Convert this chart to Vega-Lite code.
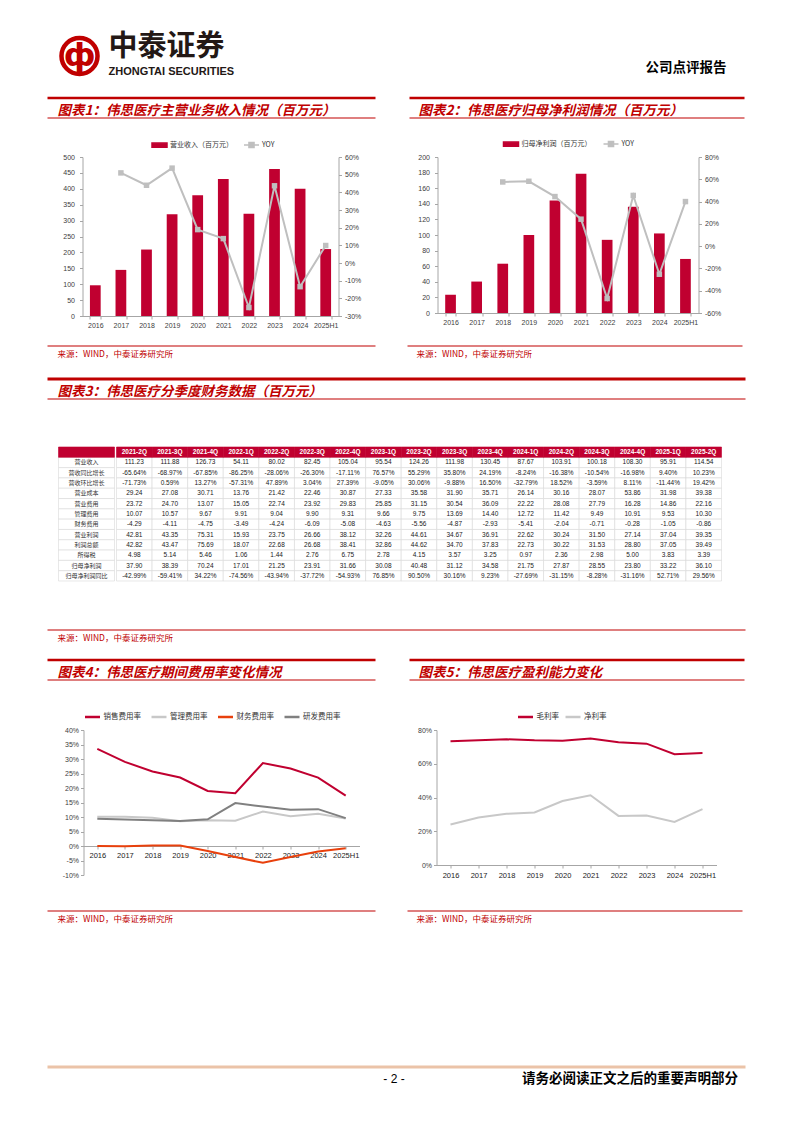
{
"$schema":"https://vega.github.io/schema/vega-lite/v6.json",
"background":"white",
"padding":{"left":45.5,"top":0,"right":0,"bottom":0},
"spacing":0,
"resolve":{"scale":{"color":"independent","strokeWidth":"independent","x":"independent","y":"independent"},"legend":{"color":"independent","strokeWidth":"independent"}},
"datasets":{
"c1":[{"year":"2016","rev":96.6},{"year":"2017","rev":145,"yoy":0.51},{"year":"2018","rev":209,"yoy":0.44},{"year":"2019","rev":320,"yoy":0.537},{"year":"2020","rev":380,"yoy":0.189},{"year":"2021","rev":431,"yoy":0.138},{"year":"2022","rev":321.6,"yoy":-0.252},{"year":"2023","rev":462.2,"yoy":0.437},{"year":"2024","rev":400.1,"yoy":-0.134},{"year":"2025H1","rev":210.5,"yoy":0.099}],
"c2":[{"year":"2016","np":23.4},{"year":"2017","np":40.3},{"year":"2018","np":63.2,"yoy":0.576},{"year":"2019","np":100,"yoy":0.582},{"year":"2020","np":144.2,"yoy":0.445},{"year":"2021","np":178.4,"yoy":0.242},{"year":"2022","np":93.8,"yoy":-0.47},{"year":"2023","np":136.3,"yoy":0.455},{"year":"2024","np":102.0,"yoy":-0.252},{"year":"2025H1","np":69.3,"yoy":0.40}],
"c4":[
{"year":"2016","s":"销售费用率","v":0.335},{"year":"2017","s":"销售费用率","v":0.29},{"year":"2018","s":"销售费用率","v":0.257},{"year":"2019","s":"销售费用率","v":0.236},{"year":"2020","s":"销售费用率","v":0.19},{"year":"2021","s":"销售费用率","v":0.182},{"year":"2022","s":"销售费用率","v":0.286},{"year":"2023","s":"销售费用率","v":0.267},{"year":"2024","s":"销售费用率","v":0.236},{"year":"2025H1","s":"销售费用率","v":0.174},
{"year":"2016","s":"管理费用率","v":0.101},{"year":"2017","s":"管理费用率","v":0.101},{"year":"2018","s":"管理费用率","v":0.097},{"year":"2019","s":"管理费用率","v":0.085},{"year":"2020","s":"管理费用率","v":0.089},{"year":"2021","s":"管理费用率","v":0.087},{"year":"2022","s":"管理费用率","v":0.119},{"year":"2023","s":"管理费用率","v":0.103},{"year":"2024","s":"管理费用率","v":0.111},{"year":"2025H1","s":"管理费用率","v":0.095},
{"year":"2016","s":"财务费用率","v":0.0},{"year":"2017","s":"财务费用率","v":-0.001},{"year":"2018","s":"财务费用率","v":0.002},{"year":"2019","s":"财务费用率","v":0.002},{"year":"2020","s":"财务费用率","v":-0.017},{"year":"2021","s":"财务费用率","v":-0.038},{"year":"2022","s":"财务费用率","v":-0.058},{"year":"2023","s":"财务费用率","v":-0.038},{"year":"2024","s":"财务费用率","v":-0.019},{"year":"2025H1","s":"财务费用率","v":-0.008},
{"year":"2016","s":"研发费用率","v":0.094},{"year":"2017","s":"研发费用率","v":0.091},{"year":"2018","s":"研发费用率","v":0.089},{"year":"2019","s":"研发费用率","v":0.086},{"year":"2020","s":"研发费用率","v":0.092},{"year":"2021","s":"研发费用率","v":0.148},{"year":"2022","s":"研发费用率","v":0.136},{"year":"2023","s":"研发费用率","v":0.125},{"year":"2024","s":"研发费用率","v":0.127},{"year":"2025H1","s":"研发费用率","v":0.096}],
"c5":[
{"year":"2016","s":"毛利率","v":0.734},{"year":"2017","s":"毛利率","v":0.739},{"year":"2018","s":"毛利率","v":0.745},{"year":"2019","s":"毛利率","v":0.739},{"year":"2020","s":"毛利率","v":0.737},{"year":"2021","s":"毛利率","v":0.749},{"year":"2022","s":"毛利率","v":0.727},{"year":"2023","s":"毛利率","v":0.719},{"year":"2024","s":"毛利率","v":0.657},{"year":"2025H1","s":"毛利率","v":0.663},
{"year":"2016","s":"净利率","v":0.24},{"year":"2017","s":"净利率","v":0.281},{"year":"2018","s":"净利率","v":0.303},{"year":"2019","s":"净利率","v":0.311},{"year":"2020","s":"净利率","v":0.379},{"year":"2021","s":"净利率","v":0.413},{"year":"2022","s":"净利率","v":0.291},{"year":"2023","s":"净利率","v":0.293},{"year":"2024","s":"净利率","v":0.255},{"year":"2025H1","s":"净利率","v":0.331}],
"qs":[{"q":"2021-2Q"},{"q":"2021-3Q"},{"q":"2021-4Q"},{"q":"2022-1Q"},{"q":"2022-2Q"},{"q":"2022-3Q"},{"q":"2022-4Q"},{"q":"2023-1Q"},{"q":"2023-2Q"},{"q":"2023-3Q"},{"q":"2023-4Q"},{"q":"2024-1Q"},{"q":"2024-2Q"},{"q":"2024-3Q"},{"q":"2024-4Q"},{"q":"2025-1Q"},{"q":"2025-2Q"}],
"ms":[{"m":"营业收入"},{"m":"营收同比增长"},{"m":"营收环比增长"},{"m":"营业成本"},{"m":"营业费用"},{"m":"管理费用"},{"m":"财务费用"},{"m":"营业利润"},{"m":"利润总额"},{"m":"所得税"},{"m":"归母净利润"},{"m":"归母净利润同比"}],
"tbl":[
{"q":"2021-2Q","m":"营业收入","v":"111.23"},{"q":"2021-3Q","m":"营业收入","v":"111.88"},{"q":"2021-4Q","m":"营业收入","v":"126.73"},{"q":"2022-1Q","m":"营业收入","v":"54.11"},{"q":"2022-2Q","m":"营业收入","v":"80.02"},{"q":"2022-3Q","m":"营业收入","v":"82.45"},{"q":"2022-4Q","m":"营业收入","v":"105.04"},{"q":"2023-1Q","m":"营业收入","v":"95.54"},{"q":"2023-2Q","m":"营业收入","v":"124.26"},{"q":"2023-3Q","m":"营业收入","v":"111.98"},{"q":"2023-4Q","m":"营业收入","v":"130.45"},{"q":"2024-1Q","m":"营业收入","v":"87.67"},{"q":"2024-2Q","m":"营业收入","v":"103.91"},{"q":"2024-3Q","m":"营业收入","v":"100.18"},{"q":"2024-4Q","m":"营业收入","v":"108.30"},{"q":"2025-1Q","m":"营业收入","v":"95.91"},{"q":"2025-2Q","m":"营业收入","v":"114.54"},
{"q":"2021-2Q","m":"营收同比增长","v":"-65.64%"},{"q":"2021-3Q","m":"营收同比增长","v":"-68.97%"},{"q":"2021-4Q","m":"营收同比增长","v":"-67.85%"},{"q":"2022-1Q","m":"营收同比增长","v":"-86.25%"},{"q":"2022-2Q","m":"营收同比增长","v":"-28.06%"},{"q":"2022-3Q","m":"营收同比增长","v":"-26.30%"},{"q":"2022-4Q","m":"营收同比增长","v":"-17.11%"},{"q":"2023-1Q","m":"营收同比增长","v":"76.57%"},{"q":"2023-2Q","m":"营收同比增长","v":"55.29%"},{"q":"2023-3Q","m":"营收同比增长","v":"35.80%"},{"q":"2023-4Q","m":"营收同比增长","v":"24.19%"},{"q":"2024-1Q","m":"营收同比增长","v":"-8.24%"},{"q":"2024-2Q","m":"营收同比增长","v":"-16.38%"},{"q":"2024-3Q","m":"营收同比增长","v":"-10.54%"},{"q":"2024-4Q","m":"营收同比增长","v":"-16.98%"},{"q":"2025-1Q","m":"营收同比增长","v":"9.40%"},{"q":"2025-2Q","m":"营收同比增长","v":"10.23%"},
{"q":"2021-2Q","m":"营收环比增长","v":"-71.73%"},{"q":"2021-3Q","m":"营收环比增长","v":"0.59%"},{"q":"2021-4Q","m":"营收环比增长","v":"13.27%"},{"q":"2022-1Q","m":"营收环比增长","v":"-57.31%"},{"q":"2022-2Q","m":"营收环比增长","v":"47.89%"},{"q":"2022-3Q","m":"营收环比增长","v":"3.04%"},{"q":"2022-4Q","m":"营收环比增长","v":"27.39%"},{"q":"2023-1Q","m":"营收环比增长","v":"-9.05%"},{"q":"2023-2Q","m":"营收环比增长","v":"30.06%"},{"q":"2023-3Q","m":"营收环比增长","v":"-9.88%"},{"q":"2023-4Q","m":"营收环比增长","v":"16.50%"},{"q":"2024-1Q","m":"营收环比增长","v":"-32.79%"},{"q":"2024-2Q","m":"营收环比增长","v":"18.52%"},{"q":"2024-3Q","m":"营收环比增长","v":"-3.59%"},{"q":"2024-4Q","m":"营收环比增长","v":"8.11%"},{"q":"2025-1Q","m":"营收环比增长","v":"-11.44%"},{"q":"2025-2Q","m":"营收环比增长","v":"19.42%"},
{"q":"2021-2Q","m":"营业成本","v":"29.24"},{"q":"2021-3Q","m":"营业成本","v":"27.08"},{"q":"2021-4Q","m":"营业成本","v":"30.71"},{"q":"2022-1Q","m":"营业成本","v":"13.76"},{"q":"2022-2Q","m":"营业成本","v":"21.42"},{"q":"2022-3Q","m":"营业成本","v":"22.46"},{"q":"2022-4Q","m":"营业成本","v":"30.87"},{"q":"2023-1Q","m":"营业成本","v":"27.33"},{"q":"2023-2Q","m":"营业成本","v":"35.58"},{"q":"2023-3Q","m":"营业成本","v":"31.90"},{"q":"2023-4Q","m":"营业成本","v":"35.71"},{"q":"2024-1Q","m":"营业成本","v":"26.14"},{"q":"2024-2Q","m":"营业成本","v":"30.16"},{"q":"2024-3Q","m":"营业成本","v":"28.07"},{"q":"2024-4Q","m":"营业成本","v":"53.86"},{"q":"2025-1Q","m":"营业成本","v":"31.98"},{"q":"2025-2Q","m":"营业成本","v":"39.38"},
{"q":"2021-2Q","m":"营业费用","v":"23.72"},{"q":"2021-3Q","m":"营业费用","v":"24.70"},{"q":"2021-4Q","m":"营业费用","v":"13.07"},{"q":"2022-1Q","m":"营业费用","v":"15.05"},{"q":"2022-2Q","m":"营业费用","v":"22.74"},{"q":"2022-3Q","m":"营业费用","v":"23.92"},{"q":"2022-4Q","m":"营业费用","v":"29.83"},{"q":"2023-1Q","m":"营业费用","v":"25.85"},{"q":"2023-2Q","m":"营业费用","v":"31.15"},{"q":"2023-3Q","m":"营业费用","v":"30.54"},{"q":"2023-4Q","m":"营业费用","v":"36.09"},{"q":"2024-1Q","m":"营业费用","v":"22.22"},{"q":"2024-2Q","m":"营业费用","v":"28.08"},{"q":"2024-3Q","m":"营业费用","v":"27.79"},{"q":"2024-4Q","m":"营业费用","v":"16.28"},{"q":"2025-1Q","m":"营业费用","v":"14.86"},{"q":"2025-2Q","m":"营业费用","v":"22.16"},
{"q":"2021-2Q","m":"管理费用","v":"10.07"},{"q":"2021-3Q","m":"管理费用","v":"10.57"},{"q":"2021-4Q","m":"管理费用","v":"9.67"},{"q":"2022-1Q","m":"管理费用","v":"9.91"},{"q":"2022-2Q","m":"管理费用","v":"9.04"},{"q":"2022-3Q","m":"管理费用","v":"9.90"},{"q":"2022-4Q","m":"管理费用","v":"9.31"},{"q":"2023-1Q","m":"管理费用","v":"9.66"},{"q":"2023-2Q","m":"管理费用","v":"9.75"},{"q":"2023-3Q","m":"管理费用","v":"13.69"},{"q":"2023-4Q","m":"管理费用","v":"14.40"},{"q":"2024-1Q","m":"管理费用","v":"12.72"},{"q":"2024-2Q","m":"管理费用","v":"11.42"},{"q":"2024-3Q","m":"管理费用","v":"9.49"},{"q":"2024-4Q","m":"管理费用","v":"10.91"},{"q":"2025-1Q","m":"管理费用","v":"9.53"},{"q":"2025-2Q","m":"管理费用","v":"10.30"},
{"q":"2021-2Q","m":"财务费用","v":"-4.29"},{"q":"2021-3Q","m":"财务费用","v":"-4.11"},{"q":"2021-4Q","m":"财务费用","v":"-4.75"},{"q":"2022-1Q","m":"财务费用","v":"-3.49"},{"q":"2022-2Q","m":"财务费用","v":"-4.24"},{"q":"2022-3Q","m":"财务费用","v":"-6.09"},{"q":"2022-4Q","m":"财务费用","v":"-5.08"},{"q":"2023-1Q","m":"财务费用","v":"-4.63"},{"q":"2023-2Q","m":"财务费用","v":"-5.56"},{"q":"2023-3Q","m":"财务费用","v":"-4.87"},{"q":"2023-4Q","m":"财务费用","v":"-2.93"},{"q":"2024-1Q","m":"财务费用","v":"-5.41"},{"q":"2024-2Q","m":"财务费用","v":"-2.04"},{"q":"2024-3Q","m":"财务费用","v":"-0.71"},{"q":"2024-4Q","m":"财务费用","v":"-0.28"},{"q":"2025-1Q","m":"财务费用","v":"-1.05"},{"q":"2025-2Q","m":"财务费用","v":"-0.86"},
{"q":"2021-2Q","m":"营业利润","v":"42.81"},{"q":"2021-3Q","m":"营业利润","v":"43.35"},{"q":"2021-4Q","m":"营业利润","v":"75.31"},{"q":"2022-1Q","m":"营业利润","v":"15.93"},{"q":"2022-2Q","m":"营业利润","v":"23.75"},{"q":"2022-3Q","m":"营业利润","v":"26.66"},{"q":"2022-4Q","m":"营业利润","v":"38.12"},{"q":"2023-1Q","m":"营业利润","v":"32.26"},{"q":"2023-2Q","m":"营业利润","v":"44.61"},{"q":"2023-3Q","m":"营业利润","v":"34.67"},{"q":"2023-4Q","m":"营业利润","v":"36.91"},{"q":"2024-1Q","m":"营业利润","v":"22.62"},{"q":"2024-2Q","m":"营业利润","v":"30.24"},{"q":"2024-3Q","m":"营业利润","v":"31.50"},{"q":"2024-4Q","m":"营业利润","v":"27.14"},{"q":"2025-1Q","m":"营业利润","v":"37.04"},{"q":"2025-2Q","m":"营业利润","v":"39.35"},
{"q":"2021-2Q","m":"利润总额","v":"42.82"},{"q":"2021-3Q","m":"利润总额","v":"43.47"},{"q":"2021-4Q","m":"利润总额","v":"75.69"},{"q":"2022-1Q","m":"利润总额","v":"18.07"},{"q":"2022-2Q","m":"利润总额","v":"22.68"},{"q":"2022-3Q","m":"利润总额","v":"26.68"},{"q":"2022-4Q","m":"利润总额","v":"38.41"},{"q":"2023-1Q","m":"利润总额","v":"32.86"},{"q":"2023-2Q","m":"利润总额","v":"44.62"},{"q":"2023-3Q","m":"利润总额","v":"34.70"},{"q":"2023-4Q","m":"利润总额","v":"37.83"},{"q":"2024-1Q","m":"利润总额","v":"22.73"},{"q":"2024-2Q","m":"利润总额","v":"30.22"},{"q":"2024-3Q","m":"利润总额","v":"31.53"},{"q":"2024-4Q","m":"利润总额","v":"28.80"},{"q":"2025-1Q","m":"利润总额","v":"37.05"},{"q":"2025-2Q","m":"利润总额","v":"39.49"},
{"q":"2021-2Q","m":"所得税","v":"4.98"},{"q":"2021-3Q","m":"所得税","v":"5.14"},{"q":"2021-4Q","m":"所得税","v":"5.46"},{"q":"2022-1Q","m":"所得税","v":"1.06"},{"q":"2022-2Q","m":"所得税","v":"1.44"},{"q":"2022-3Q","m":"所得税","v":"2.76"},{"q":"2022-4Q","m":"所得税","v":"6.75"},{"q":"2023-1Q","m":"所得税","v":"2.78"},{"q":"2023-2Q","m":"所得税","v":"4.15"},{"q":"2023-3Q","m":"所得税","v":"3.57"},{"q":"2023-4Q","m":"所得税","v":"3.25"},{"q":"2024-1Q","m":"所得税","v":"0.97"},{"q":"2024-2Q","m":"所得税","v":"2.36"},{"q":"2024-3Q","m":"所得税","v":"2.98"},{"q":"2024-4Q","m":"所得税","v":"5.00"},{"q":"2025-1Q","m":"所得税","v":"3.83"},{"q":"2025-2Q","m":"所得税","v":"3.39"},
{"q":"2021-2Q","m":"归母净利润","v":"37.90"},{"q":"2021-3Q","m":"归母净利润","v":"38.39"},{"q":"2021-4Q","m":"归母净利润","v":"70.24"},{"q":"2022-1Q","m":"归母净利润","v":"17.01"},{"q":"2022-2Q","m":"归母净利润","v":"21.25"},{"q":"2022-3Q","m":"归母净利润","v":"23.91"},{"q":"2022-4Q","m":"归母净利润","v":"31.66"},{"q":"2023-1Q","m":"归母净利润","v":"30.08"},{"q":"2023-2Q","m":"归母净利润","v":"40.48"},{"q":"2023-3Q","m":"归母净利润","v":"31.12"},{"q":"2023-4Q","m":"归母净利润","v":"34.58"},{"q":"2024-1Q","m":"归母净利润","v":"21.75"},{"q":"2024-2Q","m":"归母净利润","v":"27.87"},{"q":"2024-3Q","m":"归母净利润","v":"28.55"},{"q":"2024-4Q","m":"归母净利润","v":"23.80"},{"q":"2025-1Q","m":"归母净利润","v":"33.22"},{"q":"2025-2Q","m":"归母净利润","v":"36.10"},
{"q":"2021-2Q","m":"归母净利润同比","v":"-42.99%"},{"q":"2021-3Q","m":"归母净利润同比","v":"-59.41%"},{"q":"2021-4Q","m":"归母净利润同比","v":"34.22%"},{"q":"2022-1Q","m":"归母净利润同比","v":"-74.56%"},{"q":"2022-2Q","m":"归母净利润同比","v":"-43.94%"},{"q":"2022-3Q","m":"归母净利润同比","v":"-37.72%"},{"q":"2022-4Q","m":"归母净利润同比","v":"-54.93%"},{"q":"2023-1Q","m":"归母净利润同比","v":"76.85%"},{"q":"2023-2Q","m":"归母净利润同比","v":"90.50%"},{"q":"2023-3Q","m":"归母净利润同比","v":"30.16%"},{"q":"2023-4Q","m":"归母净利润同比","v":"9.23%"},{"q":"2024-1Q","m":"归母净利润同比","v":"-27.69%"},{"q":"2024-2Q","m":"归母净利润同比","v":"-31.15%"},{"q":"2024-3Q","m":"归母净利润同比","v":"-8.28%"},{"q":"2024-4Q","m":"归母净利润同比","v":"-31.16%"},{"q":"2025-1Q","m":"归母净利润同比","v":"52.71%"},{"q":"2025-2Q","m":"归母净利润同比","v":"29.56%"}
]
},
"vconcat":[
{"hconcat":[
 {"width":3.5,"height":96,"data":{"values":[]},"mark":{"type":"point","opacity":0}},
 {"width":44,"height":96,"data":{"values":[{"k":"logo"}]},"layer":[
   {"mark":{"type":"point","shape":"circle","size":1300,"filled":false,"stroke":"#C00000","strokeWidth":4.5,"opacity":1,"yOffset":8}},
   {"mark":{"type":"text","text":"ф","font":"DejaVu Sans","fontWeight":"bold","fontSize":32,"color":"#C00000","baseline":"middle","align":"center","dy":8}}
 ]},
 {"width":1,"height":96,"data":{"values":[]},"mark":{"type":"point","opacity":0}},
 {"width":140,"height":96,"layer":[
   {"data":{"values":[{"t":"中泰证券"}]},"mark":{"type":"text","align":"left","baseline":"middle","dy":-1,"font":"Noto Sans CJK SC","fontSize":29,"fontWeight":"bold","color":"#231815"},"encoding":{"text":{"field":"t"},"x":{"datum":0,"type":"quantitative","scale":{"domain":[0,1]},"axis":null}}},
   {"data":{"values":[{"t":"ZHONGTAI SECURITIES"}]},"mark":{"type":"text","align":"left","baseline":"middle","dy":24,"font":"Liberation Sans","fontSize":11,"fontWeight":"bold","color":"#231815"},"encoding":{"text":{"field":"t"},"x":{"datum":0,"type":"quantitative"}}}
 ]},
 {"width":478,"height":96,"data":{"values":[{"t":"公司点评报告"}]},"mark":{"type":"text","align":"right","baseline":"middle","dy":19.5,"font":"Noto Sans CJK SC","fontSize":13.5,"fontWeight":"bold","color":"#000000"},"encoding":{"text":{"field":"t"},"x":{"datum":1,"type":"quantitative","scale":{"domain":[0,1]},"axis":null}}}
],"spacing":0},
{"hconcat":[
 {"width":328,"height":20,"layer":[
  {"data":{"values":[{"edge":"top"},{"edge":"bottom"}]},"mark":{"type":"rule","color":"#C00000"},"encoding":{"y":{"field":"edge","type":"nominal","scale":{"type":"point","domain":["top","bottom"],"padding":0},"axis":null},"strokeWidth":{"field":"edge","type":"nominal","scale":{"type":"ordinal","domain":["top","bottom"],"range":[2.5,1.2]},"legend":null}}},
  {"data":{"values":[{"t":"图表1：伟思医疗主营业务收入情况（百万元）"}]},"mark":{"type":"text","align":"left","baseline":"middle","dx":10,"dy":2.5,"font":"Noto Sans CJK SC","fontSize":13.5,"fontWeight":"bold","fontStyle":"italic","color":"#C00000"},"encoding":{"text":{"field":"t"},"x":{"datum":0,"type":"quantitative","scale":{"domain":[0,1]},"axis":null}}}
 ]},
 {"width":30,"height":20,"data":{"values":[]},"mark":{"type":"point","opacity":0}},
 {"width":335,"height":20,"layer":[
  {"data":{"values":[{"edge":"top"},{"edge":"bottom"}]},"mark":{"type":"rule","color":"#C00000"},"encoding":{"y":{"field":"edge","type":"nominal","scale":{"type":"point","domain":["top","bottom"],"padding":0},"axis":null},"strokeWidth":{"field":"edge","type":"nominal","scale":{"type":"ordinal","domain":["top","bottom"],"range":[2.5,1.2]},"legend":null}}},
  {"data":{"values":[{"t":"图表2：伟思医疗归母净利润情况（百万元）"}]},"mark":{"type":"text","align":"left","baseline":"middle","dx":9,"dy":2.5,"font":"Noto Sans CJK SC","fontSize":13.5,"fontWeight":"bold","fontStyle":"italic","color":"#C00000"},"encoding":{"text":{"field":"t"},"x":{"datum":0,"type":"quantitative","scale":{"domain":[0,1]},"axis":null}}}
 ]}
],"spacing":0,"resolve":{"scale":{"strokeWidth":"independent"},"legend":{"strokeWidth":"independent"}}},
{"width":1,"height":16,"data":{"values":[]},"mark":{"type":"point","opacity":0}},
{"hconcat":[
 {"width":15,"height":10,"data":{"values":[]},"mark":{"type":"point","opacity":0}},
 {"width":256,"height":159,"data":{"name":"c1"},
  "encoding":{"x":{"field":"year","type":"ordinal","sort":null,"scale":{"paddingInner":0.58,"paddingOuter":0.29},"axis":{"title":null,"labelAngle":0,"tickBand":"extent","tickSize":3,"labelPadding":2}}},
  "layer":[
   {"mark":{"type":"bar"},"encoding":{
     "y":{"field":"rev","type":"quantitative","scale":{"domain":[0,500],"nice":false},"axis":{"title":null,"values":[0,50,100,150,200,250,300,350,400,450,500],"labelPadding":5,"tickSize":3}},
     "color":{"datum":"营业收入（百万元）","type":"nominal","scale":{"domain":["营业收入（百万元）","YOY"],"range":["#C00030","#BFBFBF"]},
       "legend":{"title":null,"orient":"none","legendX":68.5,"legendY":-21,"direction":"horizontal","labelFont":"Noto Sans CJK SC","labelFontSize":7,"labelColor":"#333333","symbolSize":225,"labelOffset":2,"columnPadding":8,
         "encode":{"symbols":{"update":{"shape":{"signal":"datum.value === 'YOY' ? 'M-1,0H1M-0.34,-0.34H0.34V0.34H-0.34Z' : 'M-1,-0.28H1V0.28H-1Z'"},"fill":{"signal":"datum.value === 'YOY' ? '#BFBFBF' : '#C00030'"},"stroke":{"signal":"datum.value === 'YOY' ? '#BFBFBF' : '#C00030'"},"strokeWidth":{"value":1.5},"opacity":{"value":1}}}}}}}},
   {"mark":{"type":"line","strokeWidth":2,"point":{"shape":"square","size":30,"filled":true}},"encoding":{
     "y":{"field":"yoy","type":"quantitative","scale":{"domain":[-0.3,0.6],"nice":false},"axis":{"orient":"right","title":null,"format":".0%","values":[-0.3,-0.2,-0.1,0,0.1,0.2,0.3,0.4,0.5,0.6],"labelPadding":3,"tickSize":3}},
     "color":{"datum":"YOY","type":"nominal"}}}
  ],
  "resolve":{"scale":{"y":"independent"}}},
 {"width":56,"height":10,"data":{"values":[]},"mark":{"type":"point","opacity":0}},
 {"width":261,"height":156,"data":{"name":"c2"},
  "encoding":{"x":{"field":"year","type":"ordinal","sort":null,"scale":{"paddingInner":0.59,"paddingOuter":0.295},"axis":{"title":null,"labelAngle":0,"tickBand":"extent","tickSize":3,"labelPadding":2}}},
  "layer":[
   {"mark":{"type":"bar"},"encoding":{
     "y":{"field":"np","type":"quantitative","scale":{"domain":[0,200],"nice":false},"axis":{"title":null,"values":[0,20,40,60,80,100,120,140,160,180,200],"labelPadding":5,"tickSize":3}},
     "color":{"datum":"归母净利润（百万元）","type":"nominal","scale":{"domain":["归母净利润（百万元）","YOY"],"range":["#C00030","#BFBFBF"]},
       "legend":{"title":null,"orient":"none","legendX":65,"legendY":-22,"direction":"horizontal","labelFont":"Noto Sans CJK SC","labelFontSize":7,"labelColor":"#333333","symbolSize":225,"labelOffset":2,"columnPadding":9,
         "encode":{"symbols":{"update":{"shape":{"signal":"datum.value === 'YOY' ? 'M-1,0H1M-0.34,-0.34H0.34V0.34H-0.34Z' : 'M-1,-0.28H1V0.28H-1Z'"},"fill":{"signal":"datum.value === 'YOY' ? '#BFBFBF' : '#C00030'"},"stroke":{"signal":"datum.value === 'YOY' ? '#BFBFBF' : '#C00030'"},"strokeWidth":{"value":1.5},"opacity":{"value":1}}}}}}}},
   {"mark":{"type":"line","strokeWidth":2,"point":{"shape":"square","size":30,"filled":true}},"encoding":{
     "y":{"field":"yoy","type":"quantitative","scale":{"domain":[-0.6,0.8],"nice":false},"axis":{"orient":"right","title":null,"format":".0%","values":[-0.6,-0.4,-0.2,0,0.2,0.4,0.6,0.8],"labelPadding":3,"tickSize":3}},
     "color":{"datum":"YOY","type":"nominal"}}}
  ],
  "resolve":{"scale":{"y":"independent"}}}
],"spacing":0,"resolve":{"scale":{"color":"independent"},"legend":{"color":"independent"}}},
{"width":1,"height":16.4,"data":{"values":[]},"mark":{"type":"point","opacity":0}},
{"hconcat":[
 {"width":328,"height":20,"layer":[
  {"data":{"values":[{"edge":"top"}]},"mark":{"type":"rule","color":"#C00000","strokeWidth":1.2},"encoding":{"y":{"field":"edge","type":"nominal","scale":{"type":"point","domain":["top","bottom"],"padding":0},"axis":null}}},
  {"data":{"values":[{"t":"来源：WIND，中泰证券研究所"}]},"mark":{"type":"text","align":"left","baseline":"middle","dx":10,"dy":-2,"font":"Noto Sans CJK SC","fontSize":8.5,"color":"#C00000"},"encoding":{"text":{"field":"t"},"x":{"datum":0,"type":"quantitative","scale":{"domain":[0,1]},"axis":null}}}
 ]},
 {"width":30,"height":20,"data":{"values":[]},"mark":{"type":"point","opacity":0}},
 {"width":335,"height":20,"layer":[
  {"data":{"values":[{"edge":"top"}]},"mark":{"type":"rule","color":"#C00000","strokeWidth":1.2},"encoding":{"y":{"field":"edge","type":"nominal","scale":{"type":"point","domain":["top","bottom"],"padding":0},"axis":null}}},
  {"data":{"values":[{"t":"来源：WIND，中泰证券研究所"}]},"mark":{"type":"text","align":"left","baseline":"middle","dx":9,"dy":-2,"font":"Noto Sans CJK SC","fontSize":8.5,"color":"#C00000"},"encoding":{"text":{"field":"t"},"x":{"datum":0,"type":"quantitative","scale":{"domain":[0,1]},"axis":null}}}
 ]}
],"spacing":0},
{"width":1,"height":10.75,"data":{"values":[]},"mark":{"type":"point","opacity":0}},
{"width":698,"height":20,"layer":[
  {"data":{"values":[{"edge":"top"},{"edge":"bottom"}]},"mark":{"type":"rule","color":"#C00000"},"encoding":{"y":{"field":"edge","type":"nominal","scale":{"type":"point","domain":["top","bottom"],"padding":0},"axis":null},"strokeWidth":{"field":"edge","type":"nominal","scale":{"type":"ordinal","domain":["top","bottom"],"range":[3,1.2]},"legend":null}}},
  {"data":{"values":[{"t":"图表3：伟思医疗分季度财务数据（百万元）"}]},"mark":{"type":"text","align":"left","baseline":"middle","dx":10,"dy":2.5,"font":"Noto Sans CJK SC","fontSize":13.5,"fontWeight":"bold","fontStyle":"italic","color":"#C00000"},"encoding":{"text":{"field":"t"},"x":{"datum":0,"type":"quantitative","scale":{"domain":[0,1]},"axis":null}}}
]},
{"width":1,"height":45.4,"data":{"values":[]},"mark":{"type":"point","opacity":0}},
{"hconcat":[
 {"width":9.5,"height":134,"data":{"values":[]},"mark":{"type":"point","opacity":0}},
 {"width":56,"height":134,
  "encoding":{"x":{"datum":"指标","type":"nominal","scale":{"paddingInner":0,"paddingOuter":0},"axis":null}},
  "layer":[
   {"data":{"name":"ms"},"mark":{"type":"rect","fill":"#ffffff","stroke":"#D9D9D9","strokeWidth":0.6},"encoding":{"y":{"field":"m","type":"nominal","scale":{"domain":["表头","营业收入","营收同比增长","营收环比增长","营业成本","营业费用","管理费用","财务费用","营业利润","利润总额","所得税","归母净利润","归母净利润同比"],"paddingInner":0,"paddingOuter":0},"axis":null}}},
   {"data":{"name":"ms"},"mark":{"type":"text","font":"Noto Sans CJK SC","fontSize":6,"color":"#333333"},"encoding":{"y":{"field":"m","type":"nominal"},"text":{"field":"m"}}},
   {"data":{"values":[{"h":"表头"}]},"mark":{"type":"rect","fill":"#C00030","stroke":"#C00030","strokeWidth":0.6},"encoding":{"y":{"field":"h","type":"nominal"}}}
  ]},
 {"width":605,"height":134,
  "encoding":{"x":{"field":"q","type":"nominal","scale":{"domain":["2021-2Q","2021-3Q","2021-4Q","2022-1Q","2022-2Q","2022-3Q","2022-4Q","2023-1Q","2023-2Q","2023-3Q","2023-4Q","2024-1Q","2024-2Q","2024-3Q","2024-4Q","2025-1Q","2025-2Q"],"paddingInner":0,"paddingOuter":0},"axis":null}},
  "layer":[
   {"data":{"name":"tbl"},"mark":{"type":"rect","fill":"#ffffff","stroke":"#D9D9D9","strokeWidth":0.6},"encoding":{"y":{"field":"m","type":"nominal","scale":{"domain":["表头","营业收入","营收同比增长","营收环比增长","营业成本","营业费用","管理费用","财务费用","营业利润","利润总额","所得税","归母净利润","归母净利润同比"],"paddingInner":0,"paddingOuter":0},"axis":null}}},
   {"data":{"name":"tbl"},"mark":{"type":"text","font":"Liberation Sans","fontSize":6.5,"color":"#222222"},"encoding":{"y":{"field":"m","type":"nominal"},"text":{"field":"v"}}},
   {"data":{"name":"qs"},"mark":{"type":"rect","fill":"#C00030","stroke":"#C00030","strokeWidth":0.6},"encoding":{"y":{"datum":"表头","type":"nominal"}}},
   {"data":{"name":"qs"},"mark":{"type":"text","font":"Liberation Sans","fontSize":6.5,"fontWeight":"bold","color":"#ffffff"},"encoding":{"y":{"datum":"表头","type":"nominal"},"text":{"field":"q"}}}
  ]}
],"spacing":0},
{"width":1,"height":46.15,"data":{"values":[]},"mark":{"type":"point","opacity":0}},
{"width":698,"height":20,"layer":[
  {"data":{"values":[{"edge":"top"}]},"mark":{"type":"rule","color":"#C00000","strokeWidth":1.2},"encoding":{"y":{"field":"edge","type":"nominal","scale":{"type":"point","domain":["top","bottom"],"padding":0},"axis":null}}},
  {"data":{"values":[{"t":"来源：WIND，中泰证券研究所"}]},"mark":{"type":"text","align":"left","baseline":"middle","dx":10,"dy":-2,"font":"Noto Sans CJK SC","fontSize":8.5,"color":"#C00000"},"encoding":{"text":{"field":"t"},"x":{"datum":0,"type":"quantitative","scale":{"domain":[0,1]},"axis":null}}}
]},
{"width":1,"height":7.75,"data":{"values":[]},"mark":{"type":"point","opacity":0}},
{"hconcat":[
 {"width":328,"height":20,"layer":[
  {"data":{"values":[{"edge":"top"},{"edge":"bottom"}]},"mark":{"type":"rule","color":"#C00000"},"encoding":{"y":{"field":"edge","type":"nominal","scale":{"type":"point","domain":["top","bottom"],"padding":0},"axis":null},"strokeWidth":{"field":"edge","type":"nominal","scale":{"type":"ordinal","domain":["top","bottom"],"range":[2.5,1.2]},"legend":null}}},
  {"data":{"values":[{"t":"图表4：伟思医疗期间费用率变化情况"}]},"mark":{"type":"text","align":"left","baseline":"middle","dx":10,"dy":2.5,"font":"Noto Sans CJK SC","fontSize":13.5,"fontWeight":"bold","fontStyle":"italic","color":"#C00000"},"encoding":{"text":{"field":"t"},"x":{"datum":0,"type":"quantitative","scale":{"domain":[0,1]},"axis":null}}}
 ]},
 {"width":30,"height":20,"data":{"values":[]},"mark":{"type":"point","opacity":0}},
 {"width":335,"height":20,"layer":[
  {"data":{"values":[{"edge":"top"},{"edge":"bottom"}]},"mark":{"type":"rule","color":"#C00000"},"encoding":{"y":{"field":"edge","type":"nominal","scale":{"type":"point","domain":["top","bottom"],"padding":0},"axis":null},"strokeWidth":{"field":"edge","type":"nominal","scale":{"type":"ordinal","domain":["top","bottom"],"range":[2.5,1.2]},"legend":null}}},
  {"data":{"values":[{"t":"图表5：伟思医疗盈利能力变化"}]},"mark":{"type":"text","align":"left","baseline":"middle","dx":9,"dy":2.5,"font":"Noto Sans CJK SC","fontSize":13.5,"fontWeight":"bold","fontStyle":"italic","color":"#C00000"},"encoding":{"text":{"field":"t"},"x":{"datum":0,"type":"quantitative","scale":{"domain":[0,1]},"axis":null}}}
 ]}
],"spacing":0,"resolve":{"scale":{"strokeWidth":"independent"},"legend":{"strokeWidth":"independent"}}},
{"width":1,"height":26.4,"data":{"values":[]},"mark":{"type":"point","opacity":0}},
{"hconcat":[
 {"width":13.4,"height":10,"data":{"values":[]},"mark":{"type":"point","opacity":0}},
 {"width":276,"height":145,"data":{"name":"c4"},"mark":{"type":"line","strokeWidth":2},
  "encoding":{
   "x":{"field":"year","type":"ordinal","sort":null,"axis":{"title":null,"labelAngle":0,"offset":-29,"tickSize":3,"labelPadding":2,"labelFontSize":7.5,"labelColor":"#222222"}},
   "y":{"field":"v","type":"quantitative","scale":{"domain":[-0.1,0.4],"nice":false},"axis":{"title":null,"format":".0%","values":[-0.1,-0.05,0,0.05,0.1,0.15,0.2,0.25,0.3,0.35,0.4],"labelPadding":2,"tickSize":3}},
   "color":{"field":"s","type":"nominal","sort":null,"scale":{"domain":["销售费用率","管理费用率","财务费用率","研发费用率"],"range":["#C00030","#C8C8C8","#E8400C","#808080"]},
     "legend":{"title":null,"orient":"none","legendX":0,"legendY":-22,"direction":"horizontal","symbolType":"stroke","symbolStrokeWidth":2.5,"symbolSize":225,"labelFont":"Noto Sans CJK SC","labelFontSize":7.5,"labelColor":"#333333","labelOffset":2,"columnPadding":4.5}}
  }},
 {"width":56.3,"height":10,"data":{"values":[]},"mark":{"type":"point","opacity":0}},
 {"width":280,"height":135,"data":{"name":"c5"},"mark":{"type":"line","strokeWidth":2},
  "encoding":{
   "x":{"field":"year","type":"ordinal","sort":null,"axis":{"title":null,"labelAngle":0,"tickSize":3,"labelPadding":3,"labelFontSize":7.5,"labelColor":"#222222"}},
   "y":{"field":"v","type":"quantitative","scale":{"domain":[0,0.8],"nice":false},"axis":{"title":null,"format":".0%","values":[0,0.2,0.4,0.6,0.8],"labelPadding":2,"tickSize":3}},
   "color":{"field":"s","type":"nominal","sort":null,"scale":{"domain":["毛利率","净利率"],"range":["#C00030","#C8C8C8"]},
     "legend":{"title":null,"orient":"none","legendX":80,"legendY":-22,"direction":"horizontal","symbolType":"stroke","symbolStrokeWidth":2.5,"symbolSize":225,"labelFont":"Noto Sans CJK SC","labelFontSize":7.5,"labelColor":"#333333","labelOffset":2,"columnPadding":0.5}}
  }}
],"spacing":0,"resolve":{"scale":{"color":"independent"},"legend":{"color":"independent"}}},
{"width":1,"height":30.4,"data":{"values":[]},"mark":{"type":"point","opacity":0}},
{"hconcat":[
 {"width":328,"height":20,"layer":[
  {"data":{"values":[{"edge":"top"}]},"mark":{"type":"rule","color":"#C00000","strokeWidth":1.2},"encoding":{"y":{"field":"edge","type":"nominal","scale":{"type":"point","domain":["top","bottom"],"padding":0},"axis":null}}},
  {"data":{"values":[{"t":"来源：WIND，中泰证券研究所"}]},"mark":{"type":"text","align":"left","baseline":"middle","dx":10,"dy":-2,"font":"Noto Sans CJK SC","fontSize":8.5,"color":"#C00000"},"encoding":{"text":{"field":"t"},"x":{"datum":0,"type":"quantitative","scale":{"domain":[0,1]},"axis":null}}}
 ]},
 {"width":30,"height":20,"data":{"values":[]},"mark":{"type":"point","opacity":0}},
 {"width":335,"height":20,"layer":[
  {"data":{"values":[{"edge":"top"}]},"mark":{"type":"rule","color":"#C00000","strokeWidth":1.2},"encoding":{"y":{"field":"edge","type":"nominal","scale":{"type":"point","domain":["top","bottom"],"padding":0},"axis":null}}},
  {"data":{"values":[{"t":"来源：WIND，中泰证券研究所"}]},"mark":{"type":"text","align":"left","baseline":"middle","dx":9,"dy":-2,"font":"Noto Sans CJK SC","fontSize":8.5,"color":"#C00000"},"encoding":{"text":{"field":"t"},"x":{"datum":0,"type":"quantitative","scale":{"domain":[0,1]},"axis":null}}}
 ]}
],"spacing":0},
{"width":1,"height":133.5,"data":{"values":[]},"mark":{"type":"point","opacity":0}},
{"width":698,"height":26,"layer":[
  {"data":{"values":[{"edge":"top"}]},"mark":{"type":"rule","color":"#EBC3A8","strokeWidth":3},"encoding":{"y":{"field":"edge","type":"nominal","scale":{"type":"point","domain":["top","bottom"],"padding":0},"axis":null}}},
  {"data":{"values":[{"p":"- 2 -"}]},"mark":{"type":"text","font":"Liberation Sans","fontSize":12,"dx":-2.5,"dy":-1.5,"baseline":"middle","color":"#000000"},"encoding":{"text":{"field":"p"}}},
  {"data":{"values":[{"t":"请务必阅读正文之后的重要声明部分"}]},"mark":{"type":"text","align":"right","baseline":"middle","dx":-7.5,"dy":-1.5,"font":"Noto Sans CJK SC","fontSize":13.5,"fontWeight":"bold","color":"#000000"},"encoding":{"text":{"field":"t"},"x":{"datum":1,"type":"quantitative","scale":{"domain":[0,1]},"axis":null}}}
]}
],
"config":{
 "view":{"stroke":null},
 "font":"Liberation Sans",
 "axis":{"labelFont":"Liberation Sans","labelFontSize":7,"labelColor":"#404040","domainColor":"#A6A6A6","tickColor":"#A6A6A6","grid":false},
 "locale":{"number":{"decimal":".","thousands":",","grouping":[3],"currency":["",""],"minus":"-"}}
}
}
